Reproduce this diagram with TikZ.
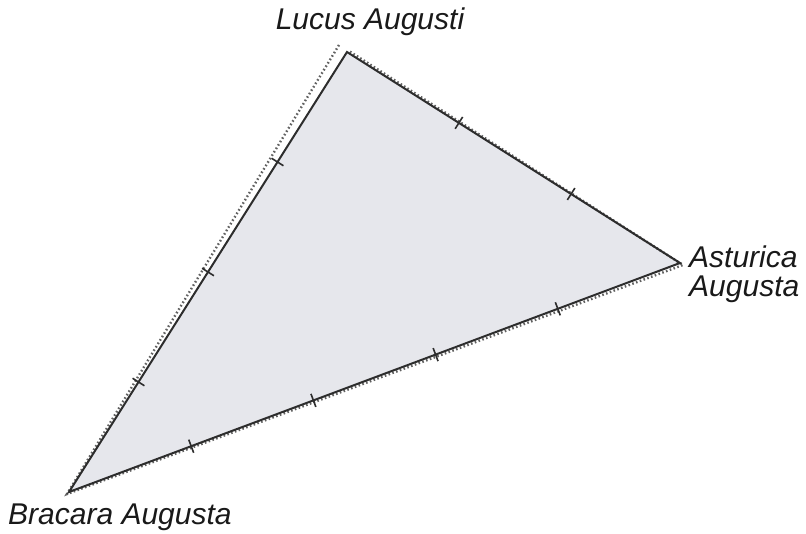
\documentclass[tikz,border=0pt]{standalone}
\usepackage{fontspec}
\setmainfont{Liberation Sans}
\usepackage{xcolor}
\usepackage{tikz}
\usetikzlibrary{calc}
\definecolor{areagray}{RGB}{230,231,236}
\definecolor{roadgray}{RGB}{45,45,45}
\tikzstyle{town} = [font=\fontsize{30}{30}\selectfont\itshape, inner sep=0pt, text=black!90]
\tikzstyle{road} = [line width=2pt, draw=roadgray, line join=miter]
\tikzstyle{trail} = [line width=2.4pt, draw=roadgray!75, dash pattern=on 1.6pt off 2.4pt]
\tikzstyle{tick} = [line width=1.6pt, draw=roadgray]

\begin{document}
\begin{tikzpicture}[x=1pt, y=-1pt]
    \useasboundingbox (0,0) rectangle (806,534);
    % Vertices
    \coordinate (lucus) at (347,52);
    \coordinate (asturica) at (680,263);
    \coordinate (bracara) at (69,492);
    \coordinate (lucusd) at (339,45);
    \coordinate (asturicad) at (683,265);
    \coordinate (bracarad) at (67,494);
    
    % Area
    \fill[areagray] (lucus) -- (asturica) -- (bracara) -- cycle;
    
    % Dotted trace
    \draw[trail] (lucusd) -- (bracarad) -- (asturicad) -- ($(lucus)+(2,-1)$);
    
    % Roads
    \draw[road] (lucus) -- (asturica) -- (bracara) -- cycle;
    
    % Ticks
    \foreach \p in {0.25,0.5,0.75}
        \draw[tick] ($(lucus)!\p!(bracara)!7pt!90:(bracara)$) -- ($(lucus)!\p!(bracara)!7pt!-90:(bracara)$);
    \foreach \p in {0.336,0.673}
        \draw[tick] ($(lucus)!\p!(asturica)!7pt!90:(asturica)$) -- ($(lucus)!\p!(asturica)!7pt!-90:(asturica)$);
    \foreach \p in {0.2,0.4,0.6,0.8}
        \draw[tick] ($(bracara)!\p!(asturica)!7pt!90:(asturica)$) -- ($(bracara)!\p!(asturica)!7pt!-90:(asturica)$);
    
    % Labels
    \node[town, anchor=base] (lucuslabel) at (370,30) {Lucus Augusti};
    \node[town, anchor=base west] (asturicalabel) at (689,268) {Asturica};
    \node[town, anchor=base west] (augustalabel) at (689,297) {Augusta};
    \node[town, anchor=base west] (bracaralabel) at (8,524) {Bracara Augusta};
\end{tikzpicture}
\end{document}
